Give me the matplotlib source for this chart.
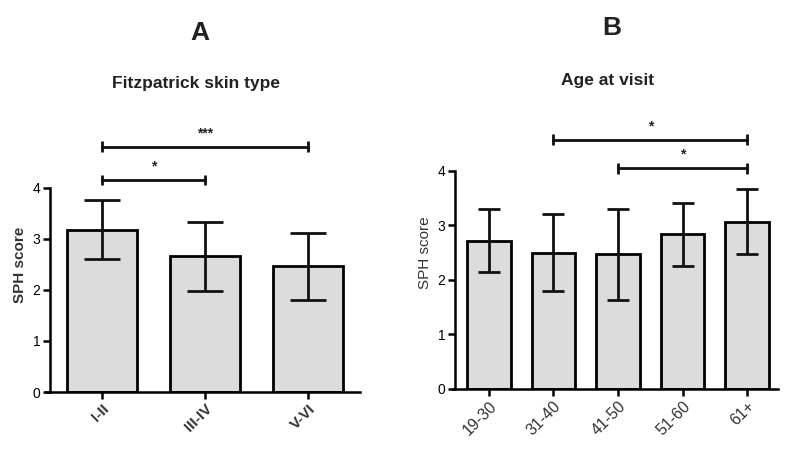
import matplotlib
matplotlib.use('Agg')
import numpy as np
from matplotlib import pyplot as plt

plt.rcParams['font.family'] = ['Liberation Sans', 'DejaVu Sans']

# Panel A data (Fitzpatrick skin type)
skin_types = ['I-II', 'III-IV', 'V-VI']
skin_mean = [3.18, 2.66, 2.46]
skin_sd = [0.58, 0.68, 0.66]
# significance brackets: (from, to, height, label)
skin_sig = [(0, 1, 4.16, '*'), (0, 2, 4.81, '***')]

# Panel B data (age at visit)
age_groups = ['19-30', '31-40', '41-50', '51-60', '61+']
age_mean = [2.72, 2.50, 2.47, 2.84, 3.07]
age_sd = [0.58, 0.71, 0.84, 0.58, 0.60]
age_sig = [(2, 4, 4.05, '*'), (1, 4, 4.57, '*')]

bar_color = '#dcdcdc'

fig = plt.figure(figsize=(8, 4.58), dpi=100)
axA = fig.add_axes([0.0575, 0.1441, 0.3925, 0.557])
axB = fig.add_axes([0.566, 0.1507, 0.4065, 0.595])


def draw_panel(ax, labels, means, sds, sig, capsize, bold, xlim, spine_x, xfs):
    x = np.arange(len(labels))
    ax.bar(x, means, width=0.68, color=bar_color, edgecolor='black', linewidth=2, zorder=2)
    ax.errorbar(x, means, yerr=sds, fmt='none', ecolor='#111111', elinewidth=2,
                capsize=capsize, capthick=2, zorder=3)
    ax.set_xlim(*xlim)
    ax.set_ylim(0, 5)
    ax.set_yticks([0, 1, 2, 3, 4])
    ax.set_xticks(x)
    weight = 'bold' if bold else 'normal'
    ax.set_xticklabels(labels, rotation=45, ha='right', rotation_mode='anchor',
                       fontsize=xfs, fontweight=weight, color='#333333')
    for lab in ax.get_yticklabels():
        lab.set_fontweight(weight)
        lab.set_fontsize(11)
        lab.set_color('#333333')
    ax.set_ylabel('SPH score', fontsize=11, fontweight=weight, color='#333333', labelpad=4)
    for s in ['top', 'right']:
        ax.spines[s].set_visible(False)
    ax.spines['left'].set_bounds(0, 4)
    ax.spines['left'].set_position(('data', spine_x))
    ax.spines['left'].set_linewidth(1.8)
    ax.spines['bottom'].set_linewidth(1.8)
    ax.tick_params(axis='both', width=1.8, length=5, pad=2)
    # significance brackets
    for i, j, h, star in sig:
        ax.plot([i, j], [h, h], color='#111111', lw=2, clip_on=False)
        ax.vlines([i, j], h - 0.1, h + 0.1, color='#111111', lw=2, clip_on=False)
        ax.text((i + j) / 2, h + 0.12, star, ha='center', va='bottom', fontsize=10,
                fontweight='bold', color='#222222')


draw_panel(axA, skin_types, skin_mean, skin_sd, skin_sig, 13, True, (-0.544, 2.505), -0.505, 11)
draw_panel(axB, age_groups, age_mean, age_sd, age_sig, 8, False, (-0.56, 4.48), -0.527, 11.5)

fig.text(0.25, 0.928, 'A', ha='center', va='center', fontsize=19, fontweight='bold', color='#222222')
fig.text(0.765, 0.938, 'B', ha='center', va='center', fontsize=19, fontweight='bold', color='#222222')
fig.text(0.245, 0.818, 'Fitzpatrick skin type', ha='center', va='center', fontsize=12.5,
         fontweight='bold', color='#222222')
fig.text(0.76, 0.825, 'Age at visit', ha='center', va='center', fontsize=12.5,
         fontweight='bold', color='#222222')

fig.savefig('out.png', dpi=100)
